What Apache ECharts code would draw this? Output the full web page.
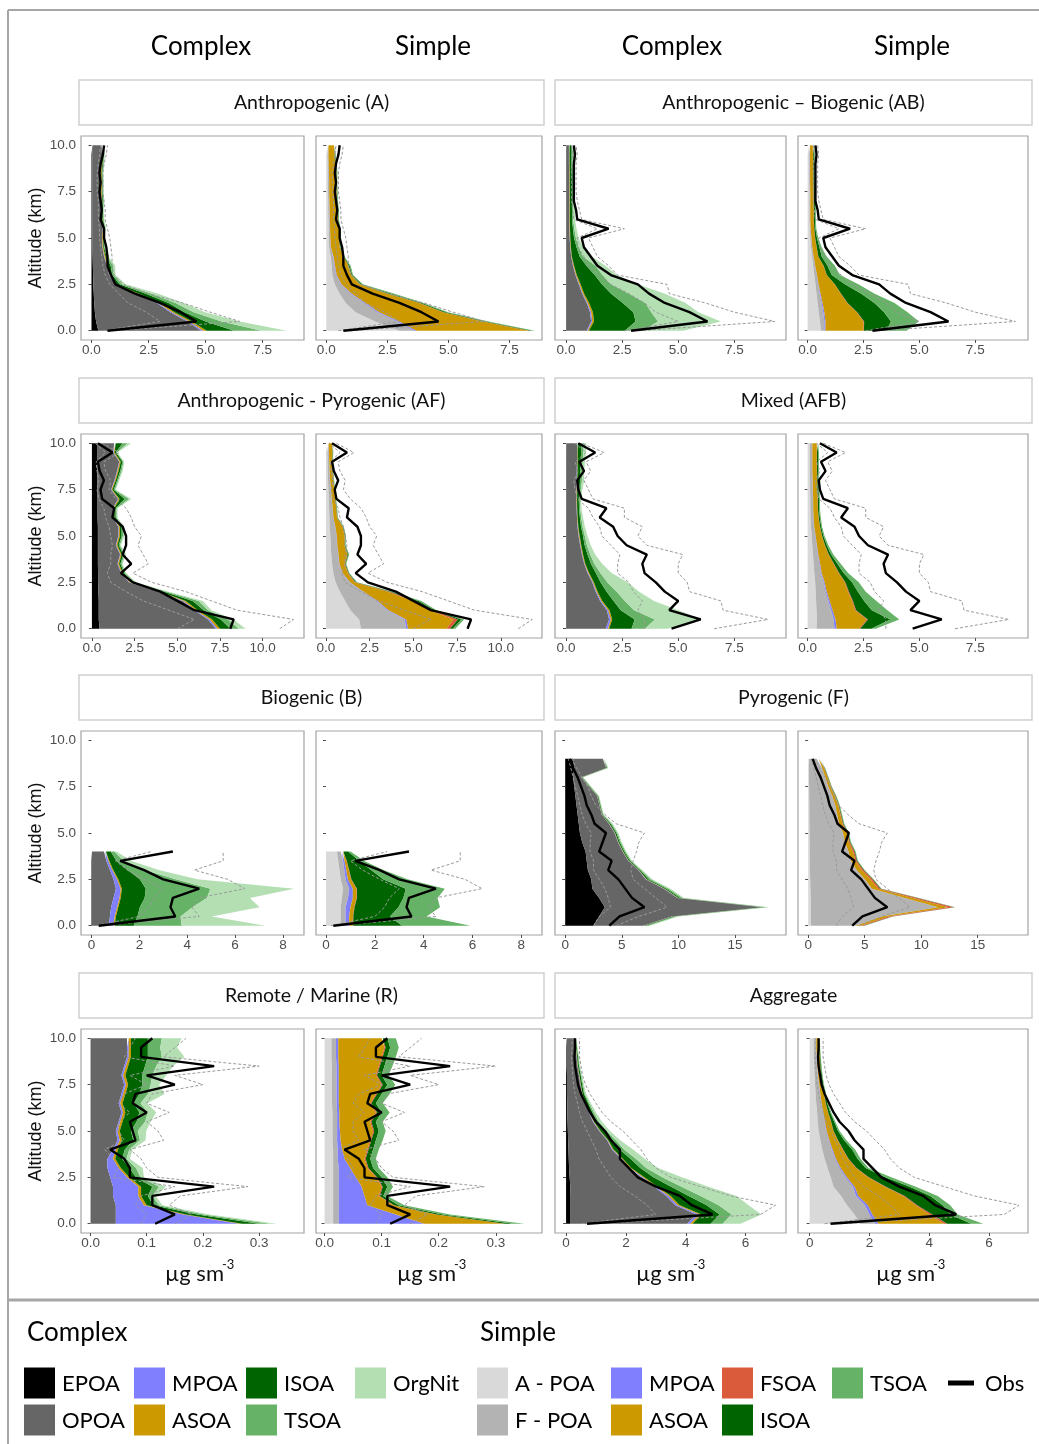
<!DOCTYPE html>
<html><head><meta charset="utf-8">
<script src="https://cdn.jsdelivr.net/npm/echarts@6/dist/echarts.min.js"></script>
<style>html,body{margin:0;padding:0;background:#fff}#c{width:1039px;height:1444px}</style>
</head><body><div id="c"></div>
<script>
// ---------- altitude levels (km) ----------
const ALT_KM = [0,0.5,1,1.5,2,2.5,3,3.5,4,4.5,5,5.5,6,6.5,7,7.5,8,8.5,9,9.5,10];
const Y_TICKS = [0,2.5,5,7.5,10];
const TICKS_25 = [0,2.5,5,7.5];
const TICKS_25_10 = [0,2.5,5,7.5,10];
const TICKS_2 = [0,2,4,6,8];
const TICKS_5 = [0,5,10,15];
const TICKS_01 = [0,0.1,0.2,0.3];
const TICKS_AGG = [0,2,4,6];

// ---------- Anthropogenic (A) ----------
const A_C_EPOA = [0.3,0.2,0.15,0.12,0.1,0.08,0.07,0.06,0.05,0.04,0.04,0.04,0.04,0.04,0.04,0.04,0.04,0.04,0.04,0.04,0.04];
const A_C_OPOA = [4.5,4.0,3.3,2.75,1.85,0.95,0.7,0.62,0.5,0.44,0.42,0.45,0.4,0.38,0.4,0.37,0.38,0.36,0.4,0.42,0.4];
const A_C_MPOA = [0.1,0.08,0.08,0.06,0.05,0.03,0.02,0.02,0.02,0.01,0.01,0.01,0.01,0.01,0.01,0.01,0.01,0.01,0.01,0.01,0.01];
const A_C_ASOA = [0.15,0.12,0.1,0.1,0.08,0.05,0.04,0.04,0.04,0.03,0.03,0.03,0.03,0.03,0.03,0.03,0.03,0.03,0.03,0.03,0.03];
const A_C_ISOA = [1.2,0.6,0.45,0.35,0.3,0.12,0.08,0.1,0.05,0.03,0.03,0.04,0.03,0.03,0.03,0.03,0.03,0.03,0.03,0.03,0.03];
const A_C_TSOA = [1.2,0.7,0.4,0.3,0.25,0.12,0.07,0.1,0.05,0.03,0.03,0.04,0.03,0.03,0.03,0.03,0.03,0.03,0.03,0.03,0.03];
const A_C_ORGN = [1.1,0.8,0.5,0.35,0.3,0.15,0.07,0.1,0.04,0.02,0.02,0.03,0.02,0.02,0.02,0.02,0.02,0.02,0.02,0.02,0.02];
const A_S_APOA = [3.0,2.0,1.2,0.8,0.55,0.35,0.25,0.22,0.18,0.12,0.1,0.1,0.09,0.08,0.08,0.07,0.07,0.06,0.06,0.05,0.05];
const A_S_FPOA = [0.6,0.9,0.9,0.75,0.45,0.25,0.15,0.12,0.1,0.06,0.06,0.05,0.05,0.05,0.04,0.04,0.04,0.04,0.03,0.03,0.03];
const A_S_MPOA = [0.1,0.1,0.08,0.06,0.05,0.03,0.03,0.02,0.02,0.01,0.01,0.01,0.01,0.01,0.01,0.01,0.01,0.01,0.01,0.01,0.01];
const A_S_ASOA = [4.6,3.4,2.6,2.2,1.5,0.75,0.6,0.55,0.4,0.36,0.35,0.38,0.32,0.33,0.3,0.3,0.28,0.3,0.28,0.25,0.22];
const A_S_FSOA = [0.05,0.05,0.04,0.03,0.02,0.02,0.01,0.01,0.01,0.01,0.01,0.01,0.01,0.01,0.01,0.01,0.01,0.01,0.01,0.01,0.01];
const A_S_ISOA = [0.1,0.1,0.1,0.08,0.1,0.05,0.03,0.04,0.02,0.02,0.02,0.02,0.02,0.02,0.02,0.02,0.02,0.02,0.02,0.02,0.02];
const A_S_TSOA = [0.1,0.1,0.08,0.08,0.13,0.05,0.03,0.04,0.02,0.02,0.02,0.02,0.02,0.02,0.02,0.02,0.02,0.02,0.02,0.02,0.02];
const OBS_A_MED = [0.7,4.6,3.9,3.0,1.9,1.05,0.85,0.7,0.7,0.65,0.55,0.55,0.4,0.45,0.4,0.35,0.4,0.35,0.4,0.5,0.55];
const OBS_A_P75 = [1.0,6.5,5.2,4.0,2.5,1.4,1.0,0.9,0.9,0.85,0.8,0.7,0.6,0.6,0.55,0.5,0.5,0.5,0.55,0.65,0.7];
const OBS_A_P25 = [0.5,3.0,2.4,1.6,1.2,0.8,0.6,0.5,0.45,0.4,0.35,0.35,0.3,0.3,0.3,0.25,0.25,0.25,0.3,0.35,0.4];

// ---------- Anthropogenic - Biogenic (AB) ----------
const AB_C_EPOA = [0.02,0.02,0.02,0.02,0.02,0.02,0.02,0.01,0.01,0.01,0.01,0.01,0.01,0.01,0.01,0.01,0.01,0.01,0.01,0.01,0.01];
const AB_C_OPOA = [0.9,1.1,1.05,0.9,0.7,0.55,0.4,0.3,0.22,0.18,0.15,0.14,0.13,0.13,0.13,0.13,0.13,0.13,0.12,0.12,0.12];
const AB_C_MPOA = [0.05,0.05,0.05,0.04,0.03,0.03,0.02,0.02,0.01,0.01,0.01,0.01,0.01,0.01,0.01,0.01,0.01,0.01,0.01,0.01,0.01];
const AB_C_ASOA = [0.05,0.08,0.08,0.07,0.06,0.05,0.04,0.03,0.02,0.02,0.02,0.02,0.02,0.02,0.02,0.02,0.02,0.02,0.02,0.02,0.02];
const AB_C_ISOA = [1.6,1.85,1.8,1.5,1.2,0.95,0.8,0.55,0.35,0.25,0.17,0.13,0.1,0.1,0.1,0.1,0.1,0.09,0.09,0.09,0.09];
const AB_C_TSOA = [0.8,1.0,0.8,1.0,0.8,0.4,0.35,0.4,0.15,0.1,0.08,0.06,0.05,0.05,0.05,0.05,0.05,0.05,0.05,0.05,0.05];
const AB_C_ORGN = [1.8,2.8,2.1,1.8,1.6,1.2,0.65,0.45,0.38,0.2,0.12,0.1,0.08,0.08,0.08,0.08,0.08,0.07,0.07,0.07,0.07];
const AB_S_APOA = [0.6,0.55,0.5,0.45,0.4,0.35,0.3,0.25,0.2,0.15,0.12,0.1,0.08,0.08,0.08,0.08,0.07,0.07,0.07,0.07,0.07];
const AB_S_FPOA = [0.15,0.2,0.2,0.18,0.15,0.12,0.1,0.08,0.06,0.05,0.04,0.03,0.03,0.03,0.03,0.03,0.03,0.03,0.03,0.03,0.03];
const AB_S_MPOA = [0.05,0.05,0.05,0.04,0.03,0.02,0.02,0.01,0.01,0.01,0.01,0.01,0.01,0.01,0.01,0.01,0.01,0.01,0.01,0.01,0.01];
const AB_S_ASOA = [1.7,1.7,1.45,1.1,0.9,0.72,0.43,0.37,0.2,0.19,0.16,0.15,0.15,0.15,0.15,0.15,0.14,0.14,0.13,0.13,0.12];
const AB_S_FSOA = [0.02,0.03,0.02,0.02,0.02,0.01,0.01,0.01,0.01,0.01,0.01,0.01,0.01,0.01,0.01,0.01,0.01,0.01,0.01,0.01,0.01];
const AB_S_ISOA = [1.0,1.2,1.2,1.2,0.9,0.45,0.22,0.17,0.15,0.12,0.08,0.05,0.05,0.05,0.05,0.05,0.05,0.05,0.05,0.05,0.05];
const AB_S_TSOA = [0.9,1.25,1.05,0.9,0.6,0.6,0.37,0.33,0.22,0.1,0.06,0.04,0.04,0.04,0.04,0.04,0.04,0.04,0.04,0.04,0.04];
const OBS_AB_MED = [2.9,6.3,5.5,4.4,3.7,3.2,2.0,1.4,1.1,0.8,0.7,1.9,0.5,0.45,0.35,0.35,0.35,0.35,0.35,0.4,0.35];
const OBS_AB_P75 = [3.2,9.3,7.5,6.2,4.6,4.5,2.3,1.9,1.4,1.2,1.0,2.6,0.7,0.6,0.5,0.45,0.45,0.45,0.45,0.5,0.45];
const OBS_AB_P25 = [2.6,5.0,4.0,3.5,2.8,2.0,1.5,1.0,0.8,0.55,0.5,1.4,0.35,0.3,0.25,0.25,0.25,0.25,0.25,0.3,0.25];

// ---------- Anthropogenic - Pyrogenic (AF) ----------
const AF_C_EPOA = [0.45,0.4,0.4,0.4,0.38,0.36,0.36,0.35,0.35,0.35,0.35,0.35,0.33,0.33,0.33,0.32,0.32,0.32,0.3,0.3,0.3];
const AF_C_OPOA = [6.8,6.4,5.6,4.9,3.5,1.8,1.35,1.15,1.3,1.05,1.2,1.2,0.9,0.9,1.2,0.8,1.0,1.15,1.3,0.95,1.0];
const AF_C_MPOA = [0.1,0.1,0.08,0.08,0.06,0.04,0.03,0.03,0.03,0.03,0.03,0.03,0.03,0.03,0.03,0.03,0.03,0.03,0.03,0.03,0.03];
const AF_C_ASOA = [0.15,0.15,0.12,0.12,0.1,0.07,0.06,0.06,0.06,0.06,0.06,0.06,0.05,0.05,0.06,0.05,0.05,0.06,0.06,0.05,0.06];
const AF_C_ISOA = [0.6,0.5,0.35,0.4,0.2,0.12,0.08,0.08,0.1,0.08,0.1,0.1,0.08,0.08,0.3,0.08,0.08,0.1,0.1,0.08,0.4];
const AF_C_TSOA = [0.5,0.4,0.25,0.35,0.15,0.12,0.07,0.07,0.08,0.07,0.08,0.08,0.06,0.06,0.25,0.07,0.07,0.08,0.06,0.05,0.3];
const AF_C_ORGN = [0.4,0.35,0.2,0.25,0.11,0.09,0.05,0.06,0.08,0.06,0.08,0.08,0.05,0.05,0.13,0.05,0.05,0.06,0.05,0.04,0.21];
const AF_S_APOA = [2.0,1.9,1.4,1.1,0.8,0.55,0.42,0.35,0.3,0.28,0.25,0.22,0.2,0.18,0.16,0.14,0.12,0.1,0.09,0.08,0.07];
const AF_S_FPOA = [2.6,2.6,2.1,1.8,1.3,0.8,0.5,0.4,0.4,0.35,0.35,0.3,0.22,0.2,0.16,0.14,0.11,0.1,0.09,0.08,0.07];
const AF_S_MPOA = [0.1,0.1,0.08,0.06,0.05,0.03,0.03,0.02,0.02,0.02,0.02,0.02,0.01,0.01,0.01,0.01,0.01,0.01,0.01,0.01,0.01];
const AF_S_ASOA = [2.2,2.7,2.4,2.0,1.4,0.25,0.3,0.3,0.5,0.4,0.45,0.4,0.2,0.2,0.2,0.18,0.18,0.16,0.15,0.2,0.2];
const AF_S_FSOA = [0.2,0.25,0.15,0.2,0.1,0.05,0.03,0.03,0.03,0.02,0.02,0.02,0.01,0.01,0.01,0.01,0.01,0.01,0.01,0.01,0.01];
const AF_S_ISOA = [0.15,0.2,0.1,0.15,0.1,0.05,0.03,0.03,0.04,0.03,0.03,0.03,0.02,0.02,0.02,0.02,0.02,0.02,0.02,0.02,0.02];
const AF_S_TSOA = [0.15,0.15,0.1,0.15,0.1,0.05,0.03,0.03,0.04,0.03,0.03,0.03,0.02,0.02,0.02,0.02,0.02,0.02,0.02,0.02,0.02];
const OBS_AF_MED = [8.1,8.3,6.0,5.0,4.0,2.4,1.7,2.3,1.8,2.0,2.0,1.8,1.2,1.3,0.6,0.5,0.7,0.45,0.35,1.2,0.35];
const OBS_AF_P75 = [11.0,11.8,8.5,7.0,5.5,3.5,2.4,3.3,3.0,2.7,2.9,2.5,2.3,2.0,1.4,1.0,1.1,0.8,0.7,1.6,0.6];
const OBS_AF_P25 = [5.0,6.0,4.5,3.0,2.0,1.1,0.9,1.1,1.1,1.2,1.1,1.0,0.8,0.7,0.4,0.3,0.4,0.3,0.25,0.8,0.2];

// ---------- Mixed (AFB) ----------
const AFB_C_EPOA = [0.02,0.02,0.02,0.02,0.02,0.02,0.01,0.01,0.01,0.01,0.01,0.01,0.01,0.01,0.01,0.01,0.01,0.01,0.01,0.01,0.01];
const AFB_C_OPOA = [1.75,1.9,1.8,1.5,1.3,1.15,0.95,0.8,0.7,0.62,0.55,0.5,0.48,0.46,0.45,0.46,0.47,0.47,0.48,0.48,0.48];
const AFB_C_MPOA = [0.1,0.08,0.06,0.05,0.04,0.03,0.03,0.02,0.02,0.02,0.02,0.02,0.01,0.01,0.01,0.01,0.01,0.01,0.01,0.01,0.01];
const AFB_C_ASOA = [0.05,0.06,0.06,0.05,0.05,0.04,0.04,0.03,0.03,0.03,0.03,0.02,0.02,0.02,0.02,0.02,0.02,0.02,0.02,0.02,0.02];
const AFB_C_ISOA = [1.0,1.0,0.5,0.5,0.4,0.3,0.3,0.25,0.2,0.15,0.15,0.12,0.1,0.08,0.08,0.1,0.12,0.12,0.14,0.15,0.15];
const AFB_C_TSOA = [0.6,0.9,0.6,0.5,0.45,0.3,0.2,0.15,0.12,0.1,0.08,0.07,0.06,0.05,0.05,0.06,0.08,0.08,0.09,0.1,0.12];
const AFB_C_ORGN = [1.0,2.1,1.96,1.3,1.0,0.9,0.5,0.35,0.22,0.17,0.12,0.1,0.08,0.06,0.06,0.07,0.1,0.1,0.1,0.12,0.12];
const AFB_S_APOA = [0.4,0.42,0.4,0.38,0.36,0.34,0.3,0.27,0.24,0.21,0.18,0.15,0.13,0.12,0.12,0.11,0.11,0.1,0.1,0.1,0.1];
const AFB_S_FPOA = [0.8,0.75,0.65,0.55,0.45,0.38,0.3,0.26,0.22,0.19,0.16,0.14,0.13,0.12,0.12,0.11,0.11,0.1,0.1,0.1,0.1];
const AFB_S_MPOA = [0.1,0.08,0.07,0.06,0.05,0.04,0.03,0.03,0.02,0.02,0.02,0.01,0.01,0.01,0.01,0.01,0.01,0.01,0.01,0.01,0.01];
const AFB_S_ASOA = [1.0,1.4,1.0,1.0,0.95,0.9,0.75,0.6,0.45,0.35,0.28,0.25,0.22,0.2,0.2,0.2,0.2,0.2,0.2,0.2,0.2];
const AFB_S_FSOA = [0.05,0.05,0.05,0.04,0.04,0.03,0.03,0.02,0.02,0.01,0.01,0.01,0.01,0.01,0.01,0.01,0.01,0.01,0.01,0.01,0.01];
const AFB_S_ISOA = [0.5,1.0,0.7,0.5,0.4,0.3,0.2,0.15,0.1,0.08,0.06,0.05,0.05,0.05,0.05,0.05,0.05,0.05,0.05,0.05,0.05];
const AFB_S_TSOA = [0.2,0.4,0.7,0.55,0.35,0.3,0.2,0.15,0.1,0.07,0.05,0.04,0.04,0.04,0.04,0.04,0.04,0.04,0.04,0.04,0.04];
const OBS_AFB_MED = [4.7,6.0,4.6,5.0,4.4,4.0,3.5,3.4,3.6,2.7,2.3,2.1,1.5,1.8,0.7,0.55,0.5,0.8,0.6,1.3,0.55];
const OBS_AFB_P75 = [6.6,9.0,7.0,6.9,5.5,5.4,5.0,5.0,5.2,3.6,3.2,3.4,2.6,2.6,1.2,1.0,0.8,1.1,0.9,1.7,0.7];
const OBS_AFB_P25 = [3.5,3.5,3.2,3.4,3.0,2.8,2.3,2.3,2.4,2.0,1.6,1.5,1.2,1.0,0.5,0.4,0.35,0.55,0.4,0.9,0.4];

// ---------- Biogenic (B): 0 - 4 km ----------
const B_C_EPOA = [0.02,0.02,0.02,0.02,0.02,0.02,0.02,0.02,0.02];
const B_C_OPOA = [0.7,0.75,0.8,0.9,1.0,0.9,0.75,0.6,0.5];
const B_C_MPOA = [0.2,0.2,0.25,0.25,0.2,0.15,0.1,0.08,0.05];
const B_C_ASOA = [0.05,0.05,0.05,0.05,0.05,0.05,0.04,0.04,0.03];
const B_C_ISOA = [0.8,0.9,0.9,1.0,1.0,0.9,0.6,0.3,0.2];
const B_C_TSOA = [2.0,1.8,2.2,2.6,2.7,1.5,0.7,0.3,0.15];
const B_C_ORGN = [3.5,1.3,2.8,1.8,3.5,0.9,0.6,0.3,0.1];
const B_S_APOA = [0.6,0.6,0.6,0.65,0.7,0.6,0.55,0.5,0.45];
const B_S_FPOA = [0.2,0.2,0.2,0.25,0.25,0.2,0.2,0.2,0.15];
const B_S_MPOA = [0.15,0.15,0.2,0.2,0.15,0.1,0.08,0.06,0.04];
const B_S_ASOA = [0.15,0.15,0.15,0.15,0.15,0.12,0.1,0.08,0.06];
const B_S_FSOA = [0.02,0.02,0.02,0.02,0.02,0.02,0.02,0.01,0.01];
const B_S_ISOA = [2.0,1.5,1.8,1.9,2.0,1.3,0.9,0.5,0.2];
const B_S_TSOA = [2.8,1.5,1.7,1.4,1.6,1.0,0.5,0.2,0.1];
const OBS_B_MED = [0.3,3.5,3.3,3.4,4.5,3.0,2.2,1.2,3.4];
const OBS_B_P75 = [0.5,4.5,4.2,4.5,6.4,5.7,4.3,5.5,5.5];
const OBS_B_P25 = [0.2,2.0,2.4,2.6,3.0,2.2,1.5,1.0,2.5];

// ---------- Pyrogenic (F): 0 - 9 km ----------
const F_C_EPOA = [2.5,3.0,3.5,3.0,2.4,2.3,2.0,1.9,1.8,1.5,1.3,1.2,1.1,1.0,0.9,0.8,0.7,0.8,0.7];
const F_C_OPOA = [4.4,6.4,13.9,6.9,6.3,4.8,4.46,3.66,3.26,3.16,3.06,2.66,2.12,2.02,1.92,1.32,0.72,2.82,2.62];
const F_C_MPOA = [0.05,0.05,0.05,0.05,0.05,0.05,0.03,0.03,0.03,0.03,0.03,0.03,0.02,0.02,0.02,0.02,0.02,0.02,0.02];
const F_C_ASOA = [0.05,0.05,0.05,0.05,0.05,0.05,0.03,0.03,0.03,0.03,0.03,0.03,0.02,0.02,0.02,0.02,0.02,0.02,0.02];
const F_C_ISOA = [0.15,0.15,0.15,0.15,0.15,0.15,0.1,0.1,0.1,0.1,0.1,0.1,0.05,0.05,0.05,0.05,0.05,0.05,0.05];
const F_C_TSOA = [0.2,0.2,0.2,0.2,0.2,0.2,0.1,0.1,0.1,0.1,0.1,0.1,0.05,0.05,0.05,0.05,0.05,0.05,0.05];
const F_C_ORGN = [0.15,0.15,0.15,0.15,0.15,0.15,0.08,0.08,0.08,0.08,0.08,0.08,0.04,0.04,0.04,0.04,0.04,0.04,0.04];
const F_S_APOA = [0.25,0.25,0.25,0.22,0.2,0.18,0.16,0.15,0.14,0.13,0.12,0.11,0.1,0.1,0.09,0.08,0.07,0.06,0.05];
const F_S_FPOA = [3.9,6.2,11.2,8.3,5.4,4.8,4.1,3.6,3.4,3.1,2.95,2.6,2.45,2.28,2.02,1.68,1.42,1.16,0.7];
const F_S_MPOA = [0.05,0.05,0.05,0.04,0.04,0.03,0.03,0.03,0.03,0.02,0.02,0.02,0.02,0.02,0.02,0.02,0.02,0.02,0.01];
const F_S_ASOA = [0.5,0.6,0.9,0.7,0.55,0.5,0.45,0.4,0.4,0.35,0.33,0.3,0.28,0.26,0.24,0.22,0.2,0.18,0.16];
const F_S_FSOA = [0.2,0.3,0.5,0.4,0.2,0.19,0.16,0.12,0.13,0.1,0.08,0.07,0.06,0.05,0.05,0.04,0.03,0.03,0.03];
const F_S_ISOA = [0.05,0.05,0.05,0.07,0.06,0.05,0.05,0.05,0.05,0.05,0.05,0.05,0.05,0.05,0.04,0.03,0.03,0.03,0.03];
const F_S_TSOA = [0.05,0.05,0.05,0.07,0.05,0.05,0.05,0.05,0.05,0.05,0.05,0.05,0.04,0.04,0.04,0.03,0.03,0.02,0.02];
const OBS_F_MED = [3.9,4.8,7.0,5.9,5.3,4.7,3.8,4.1,3.0,3.3,3.6,2.6,2.3,1.9,1.7,1.4,1.1,0.7,0.4];
const OBS_F_P75 = [4.5,6.5,9.0,8.0,7.0,6.0,5.8,6.0,6.3,6.5,7.0,4.5,3.5,2.7,2.3,2.0,1.5,1.0,0.6];
const OBS_F_P25 = [2.5,3.0,4.0,3.8,3.5,3.0,2.5,2.5,2.2,2.2,2.3,1.8,1.5,1.3,1.1,0.9,0.7,0.5,0.3];

// ---------- Remote / Marine (R) ----------
const R_C_EPOA = [0,0,0,0,0,0,0,0,0,0,0,0,0,0,0,0,0,0,0,0,0];
const R_C_OPOA = [0.045,0.045,0.045,0.04,0.04,0.035,0.03,0.03,0.04,0.048,0.045,0.05,0.055,0.05,0.055,0.06,0.055,0.06,0.065,0.065,0.065];
const R_C_MPOA = [0.22,0.12,0.05,0.045,0.045,0.03,0.02,0.01,0.005,0.004,0.003,0.003,0.003,0.003,0.003,0.003,0.003,0.003,0.003,0.003,0.003];
const R_C_ASOA = [0.005,0.005,0.005,0.005,0.005,0.004,0.004,0.004,0.004,0.004,0.004,0.004,0.004,0.004,0.004,0.004,0.004,0.004,0.004,0.004,0.004];
const R_C_ISOA = [0.03,0.02,0.012,0.012,0.02,0.012,0.015,0.012,0.012,0.02,0.02,0.025,0.025,0.02,0.025,0.025,0.03,0.03,0.03,0.03,0.03];
const R_C_TSOA = [0.02,0.012,0.01,0.008,0.012,0.008,0.012,0.008,0.008,0.012,0.012,0.015,0.015,0.012,0.015,0.015,0.018,0.02,0.025,0.022,0.025];
const R_C_ORGN = [0.012,0.01,0.006,0.006,0.012,0.006,0.012,0.006,0.006,0.01,0.015,0.01,0.015,0.012,0.03,0.015,0.025,0.03,0.04,0.03,0.035];
const R_S_APOA = [0.015,0.015,0.015,0.015,0.015,0.015,0.015,0.015,0.015,0.014,0.014,0.014,0.014,0.013,0.013,0.013,0.013,0.013,0.012,0.012,0.012];
const R_S_FPOA = [0.01,0.01,0.01,0.01,0.01,0.01,0.01,0.008,0.008,0.008,0.008,0.008,0.008,0.008,0.008,0.008,0.008,0.008,0.008,0.008,0.008];
const R_S_MPOA = [0.15,0.1,0.05,0.045,0.04,0.03,0.02,0.012,0.008,0.006,0.005,0.004,0.004,0.004,0.004,0.004,0.004,0.004,0.004,0.004,0.004];
const R_S_ASOA = [0.14,0.07,0.045,0.025,0.035,0.035,0.03,0.035,0.044,0.052,0.058,0.054,0.064,0.055,0.065,0.075,0.065,0.07,0.076,0.081,0.076];
const R_S_FSOA = [0.002,0.002,0.002,0.002,0.002,0.002,0.002,0.002,0.002,0.002,0.002,0.002,0.002,0.002,0.002,0.002,0.002,0.002,0.002,0.002,0.002];
const R_S_ISOA = [0.015,0.01,0.008,0.006,0.008,0.008,0.008,0.008,0.008,0.008,0.008,0.008,0.008,0.008,0.008,0.008,0.008,0.008,0.008,0.008,0.008];
const R_S_TSOA = [0.018,0.013,0.01,0.007,0.01,0.01,0.01,0.01,0.01,0.012,0.012,0.012,0.014,0.012,0.014,0.014,0.012,0.014,0.015,0.015,0.015];
const OBS_R_MED = [0.115,0.15,0.11,0.11,0.22,0.07,0.07,0.06,0.035,0.08,0.075,0.07,0.1,0.075,0.08,0.15,0.1,0.22,0.09,0.09,0.11];
const OBS_R_P75 = [0.15,0.18,0.14,0.16,0.28,0.12,0.1,0.09,0.07,0.13,0.12,0.1,0.14,0.1,0.11,0.2,0.15,0.3,0.13,0.15,0.17];
const OBS_R_P25 = [0.09,0.1,0.08,0.09,0.15,0.04,0.05,0.04,0.025,0.06,0.05,0.05,0.07,0.05,0.06,0.1,0.07,0.15,0.06,0.07,0.08];

// ---------- Aggregate ----------
const AGG_C_EPOA = [0.15,0.15,0.15,0.15,0.14,0.12,0.1,0.09,0.08,0.07,0.06,0.05,0.04,0.04,0.03,0.03,0.03,0.02,0.02,0.02,0.02];
const AGG_C_OPOA = [3.9,4.2,3.5,3.2,2.8,2.4,2.0,1.75,1.45,1.3,1.05,0.85,0.72,0.6,0.5,0.45,0.4,0.36,0.33,0.3,0.28];
const AGG_C_MPOA = [0.1,0.1,0.08,0.08,0.06,0.05,0.04,0.03,0.03,0.02,0.02,0.02,0.02,0.01,0.01,0.01,0.01,0.01,0.01,0.01,0.01];
const AGG_C_ASOA = [0.08,0.08,0.07,0.07,0.06,0.05,0.04,0.03,0.03,0.02,0.02,0.02,0.02,0.02,0.01,0.01,0.01,0.01,0.01,0.01,0.01];
const AGG_C_ISOA = [0.6,0.6,0.9,0.6,0.45,0.3,0.3,0.25,0.2,0.15,0.12,0.1,0.08,0.07,0.05,0.04,0.04,0.03,0.03,0.02,0.02];
const AGG_C_TSOA = [0.4,0.4,0.4,0.4,0.35,0.3,0.2,0.18,0.15,0.1,0.08,0.06,0.05,0.04,0.03,0.03,0.02,0.02,0.02,0.01,0.01];
const AGG_C_ORGN = [0.6,1.0,1.0,1.2,0.9,0.65,0.4,0.3,0.3,0.15,0.12,0.1,0.07,0.05,0.04,0.03,0.03,0.02,0.02,0.01,0.01];
const AGG_S_APOA = [1.7,1.5,1.25,1.05,0.8,0.7,0.6,0.5,0.42,0.36,0.3,0.27,0.25,0.22,0.2,0.18,0.16,0.15,0.14,0.13,0.13];
const AGG_S_FPOA = [0.5,0.5,0.6,0.5,0.65,0.5,0.4,0.35,0.32,0.28,0.25,0.22,0.2,0.17,0.15,0.13,0.11,0.1,0.09,0.08,0.08];
const AGG_S_MPOA = [0.1,0.1,0.1,0.08,0.06,0.05,0.04,0.03,0.03,0.02,0.02,0.02,0.01,0.01,0.01,0.01,0.01,0.01,0.01,0.01,0.01];
const AGG_S_ASOA = [2.2,1.9,1.6,1.5,1.0,0.7,0.5,0.4,0.33,0.27,0.22,0.2,0.15,0.13,0.12,0.1,0.1,0.1,0.1,0.1,0.1];
const AGG_S_FSOA = [0.1,0.1,0.05,0.05,0.04,0.03,0.03,0.02,0.02,0.02,0.01,0.01,0.01,0.01,0.01,0.01,0,0,0,0,0];
const AGG_S_ISOA = [0.8,0.6,0.85,0.85,0.8,0.55,0.3,0.3,0.3,0.2,0.15,0.1,0.07,0.05,0.04,0.03,0.03,0.02,0.02,0.02,0.02];
const AGG_S_TSOA = [0.4,0.25,0.25,0.25,0.2,0.2,0.1,0.1,0.1,0.08,0.05,0.04,0.03,0.03,0.02,0.02,0.02,0.02,0.01,0.01,0.01];
const OBS_AGG_MED = [0.7,4.9,4.2,3.8,3.0,2.4,2.1,1.8,1.8,1.5,1.3,1.0,0.8,0.65,0.5,0.4,0.35,0.3,0.28,0.3,0.3];
const OBS_AGG_P75 = [1.0,6.5,7.0,5.5,4.5,3.5,3.0,2.7,2.5,2.2,1.9,1.5,1.2,1.0,0.8,0.65,0.55,0.5,0.45,0.45,0.45];
const OBS_AGG_P25 = [0.5,3.0,2.7,2.3,1.8,1.5,1.3,1.1,1.0,0.85,0.7,0.55,0.45,0.38,0.3,0.25,0.22,0.2,0.18,0.2,0.2];

// ---------- labels ----------
const CX_NAMES = ['EPOA','OPOA','MPOA','ASOA','ISOA','TSOA','OrgNit'];
const SP_NAMES = ['A - POA','F - POA','MPOA','ASOA','FSOA','ISOA','TSOA'];
const STRIPS = [['Anthropogenic (A)','Anthropogenic \u2013 Biogenic (AB)'],['Anthropogenic - Pyrogenic (AF)','Mixed (AFB)'],['Biogenic (B)','Pyrogenic (F)'],['Remote / Marine (R)','Aggregate']];
const HEADERS = ['Complex','Simple','Complex','Simple'];

// ---------- styling / layout ----------
const CX_COL = ['#000000','#666666','#8080ff','#cc9900','#006400','#66b266','#b3dfb3'];
const SP_COL = ['#d9d9d9','#b3b3b3','#8080ff','#cc9900','#d95b3b','#006400','#66b266'];
const ROW_TOP = [136, 434, 731, 1029];
const PANEL_H = 204;
const COL_LEFT = [81, 316, 555, 798];
const COL_W = [223, 226, 231, 230];
const HEADER_X = [201, 433, 672, 912];
const CATS = ['-0.5'].concat(ALT_KM.map(String)).concat(['10.5']);

const PANELS = [
  {c:[A_C_EPOA,A_C_OPOA,A_C_MPOA,A_C_ASOA,A_C_ISOA,A_C_TSOA,A_C_ORGN], cx:true, o:[OBS_A_P25,OBS_A_P75,OBS_A_MED], mm:[-0.46,9.31], t:TICKS_25, d:1},
  {c:[A_S_APOA,A_S_FPOA,A_S_MPOA,A_S_ASOA,A_S_FSOA,A_S_ISOA,A_S_TSOA], cx:false, o:[OBS_A_P25,OBS_A_P75,OBS_A_MED], mm:[-0.42,8.84], t:TICKS_25, d:1},
  {c:[AB_C_EPOA,AB_C_OPOA,AB_C_MPOA,AB_C_ASOA,AB_C_ISOA,AB_C_TSOA,AB_C_ORGN], cx:true, o:[OBS_AB_P25,OBS_AB_P75,OBS_AB_MED], mm:[-0.49,9.8], t:TICKS_25, d:1},
  {c:[AB_S_APOA,AB_S_FPOA,AB_S_MPOA,AB_S_ASOA,AB_S_FSOA,AB_S_ISOA,AB_S_TSOA], cx:false, o:[OBS_AB_P25,OBS_AB_P75,OBS_AB_MED], mm:[-0.43,9.86], t:TICKS_25, d:1},
  {c:[AF_C_EPOA,AF_C_OPOA,AF_C_MPOA,AF_C_ASOA,AF_C_ISOA,AF_C_TSOA,AF_C_ORGN], cx:true, o:[OBS_AF_P25,OBS_AF_P75,OBS_AF_MED], mm:[-0.64,12.42], t:TICKS_25_10, d:1},
  {c:[AF_S_APOA,AF_S_FPOA,AF_S_MPOA,AF_S_ASOA,AF_S_FSOA,AF_S_ISOA,AF_S_TSOA], cx:false, o:[OBS_AF_P25,OBS_AF_P75,OBS_AF_MED], mm:[-0.57,12.36], t:TICKS_25_10, d:1},
  {c:[AFB_C_EPOA,AFB_C_OPOA,AFB_C_MPOA,AFB_C_ASOA,AFB_C_ISOA,AFB_C_TSOA,AFB_C_ORGN], cx:true, o:[OBS_AFB_P25,OBS_AFB_P75,OBS_AFB_MED], mm:[-0.49,9.8], t:TICKS_25, d:1},
  {c:[AFB_S_APOA,AFB_S_FPOA,AFB_S_MPOA,AFB_S_ASOA,AFB_S_FSOA,AFB_S_ISOA,AFB_S_TSOA], cx:false, o:[OBS_AFB_P25,OBS_AFB_P75,OBS_AFB_MED], mm:[-0.43,9.86], t:TICKS_25, d:1},
  {c:[B_C_EPOA,B_C_OPOA,B_C_MPOA,B_C_ASOA,B_C_ISOA,B_C_TSOA,B_C_ORGN], cx:true, o:[OBS_B_P25,OBS_B_P75,OBS_B_MED], mm:[-0.44,8.88], t:TICKS_2, d:0},
  {c:[B_S_APOA,B_S_FPOA,B_S_MPOA,B_S_ASOA,B_S_FSOA,B_S_ISOA,B_S_TSOA], cx:false, o:[OBS_B_P25,OBS_B_P75,OBS_B_MED], mm:[-0.41,8.85], t:TICKS_2, d:0},
  {c:[F_C_EPOA,F_C_OPOA,F_C_MPOA,F_C_ASOA,F_C_ISOA,F_C_TSOA,F_C_ORGN], cx:true, o:[OBS_F_P25,OBS_F_P75,OBS_F_MED], mm:[-0.9,19.5], t:TICKS_5, d:0},
  {c:[F_S_APOA,F_S_FPOA,F_S_MPOA,F_S_ASOA,F_S_FSOA,F_S_ISOA,F_S_TSOA], cx:false, o:[OBS_F_P25,OBS_F_P75,OBS_F_MED], mm:[-0.9,19.45], t:TICKS_5, d:0},
  {c:[R_C_EPOA,R_C_OPOA,R_C_MPOA,R_C_ASOA,R_C_ISOA,R_C_TSOA,R_C_ORGN], cx:true, o:[OBS_R_P25,OBS_R_P75,OBS_R_MED], mm:[-0.017,0.38], t:TICKS_01, d:1},
  {c:[R_S_APOA,R_S_FPOA,R_S_MPOA,R_S_ASOA,R_S_FSOA,R_S_ISOA,R_S_TSOA], cx:false, o:[OBS_R_P25,OBS_R_P75,OBS_R_MED], mm:[-0.015,0.381], t:TICKS_01, d:1},
  {c:[AGG_C_EPOA,AGG_C_OPOA,AGG_C_MPOA,AGG_C_ASOA,AGG_C_ISOA,AGG_C_TSOA,AGG_C_ORGN], cx:true, o:[OBS_AGG_P25,OBS_AGG_P75,OBS_AGG_MED], mm:[-0.37,7.35], t:TICKS_AGG, d:0},
  {c:[AGG_S_APOA,AGG_S_FPOA,AGG_S_MPOA,AGG_S_ASOA,AGG_S_FSOA,AGG_S_ISOA,AGG_S_TSOA], cx:false, o:[OBS_AGG_P25,OBS_AGG_P75,OBS_AGG_MED], mm:[-0.39,7.3], t:TICKS_AGG, d:0}
];

function pad(arr){
  const out = [null].concat(arr);
  while (out.length < CATS.length) out.push(null);
  return out;
}
const yTickFn = (idx, val) => Y_TICKS.indexOf(Number(val)) >= 0;
const AXIS_GREY = '#4d4d4d';
const SANS = "'Liberation Sans', Arial, sans-serif";
const LAT = "Lato, 'Open Sans', sans-serif";

const grids = [], xAxes = [], yAxes = [], series = [];
PANELS.forEach((p, i) => {
  const r = Math.floor(i / 4), c = i % 4;
  grids.push({left: COL_LEFT[c], top: ROW_TOP[r], width: COL_W[c], height: PANEL_H,
    show: true, borderColor: '#a3a3a3', borderWidth: 1.2, backgroundColor: '#ffffff', outerBoundsMode: 'none'});
  xAxes.push({gridIndex: i, type: 'value', min: p.mm[0], max: p.mm[1],
    splitLine: {show: false}, axisLine: {show: false},
    axisTick: {show: true, length: 3, customValues: p.t, lineStyle: {color: AXIS_GREY}},
    axisLabel: {customValues: p.t, color: AXIS_GREY, fontSize: 13.5, fontFamily: SANS, margin: 3,
      formatter: v => p.d ? Number(v).toFixed(p.d) : String(Math.round(v))}});
  yAxes.push({gridIndex: i, type: 'category', data: CATS, boundaryGap: false,
    axisLine: {show: false}, splitLine: {show: false},
    axisTick: {show: true, length: 3, interval: yTickFn, lineStyle: {color: AXIS_GREY}},
    axisLabel: {show: c === 0, interval: yTickFn, color: AXIS_GREY, fontSize: 13.5, fontFamily: SANS, margin: 5,
      formatter: v => Number(v).toFixed(1)},
    name: c === 0 ? 'Altitude (km)' : '', nameLocation: 'middle', nameGap: 36,
    nameTextStyle: {fontSize: 18, color: '#111', fontFamily: SANS}});
  const cols = p.cx ? CX_COL : SP_COL;
  const names = p.cx ? CX_NAMES : SP_NAMES;
  p.c.forEach((arr, k) => {
    series.push({type: 'line', name: names[k], xAxisIndex: i, yAxisIndex: i, stack: 'st' + i,
      data: pad(arr), symbol: 'none', showSymbol: false, silent: true,
      lineStyle: {width: 0}, itemStyle: {color: cols[k]}, areaStyle: {color: cols[k], opacity: 1}, z: 2});
  });
  [0, 1].forEach(k => {
    series.push({type: 'line', xAxisIndex: i, yAxisIndex: i, data: pad(p.o[k]), symbol: 'none', silent: true,
      lineStyle: {color: '#9a9a9a', width: 1, type: [3, 2]}, z: 3});
  });
  series.push({type: 'line', name: 'Obs', xAxisIndex: i, yAxisIndex: i, data: pad(p.o[2]), symbol: 'none', silent: true,
    lineStyle: {color: '#000', width: 2.4}, z: 4});
});

// ---------- decorations ----------
const G = [];
G.push({type: 'line', shape: {x1: 8, y1: 10, x2: 1039, y2: 10}, style: {stroke: '#a6a6a6', lineWidth: 2}});
G.push({type: 'line', shape: {x1: 8, y1: 10, x2: 8, y2: 1444}, style: {stroke: '#a6a6a6', lineWidth: 2}});
G.push({type: 'line', shape: {x1: 8, y1: 1300, x2: 1039, y2: 1300}, style: {stroke: '#a6a6a6', lineWidth: 3}});
HEADERS.forEach((h, c) => {
  G.push({type: 'text', style: {text: h, x: HEADER_X[c], y: 47, align: 'center', verticalAlign: 'middle',
    textAlign: 'center', textVerticalAlign: 'middle', font: '26px ' + LAT, fill: '#000'}});
});
const STRIP_L = [79, 555], STRIP_W = [465, 477];
STRIPS.forEach((pair, r) => {
  pair.forEach((txt, j) => {
    const top = ROW_TOP[r] - 56;
    G.push({type: 'rect', shape: {x: STRIP_L[j], y: top, width: STRIP_W[j], height: 45},
      style: {fill: '#fff', stroke: '#cfcfcf', lineWidth: 1.5}});
    G.push({type: 'text', style: {text: txt, x: STRIP_L[j] + STRIP_W[j] / 2, y: top + 22.5,
      align: 'center', verticalAlign: 'middle', textAlign: 'center', textVerticalAlign: 'middle',
      font: '19.5px ' + LAT, fill: '#111'}});
  });
});
HEADER_X.forEach(cx => {
  G.push({type: 'text', style: {text: '\u00b5g sm', x: cx - 36, y: 1274, align: 'left', verticalAlign: 'middle',
    textAlign: 'left', textVerticalAlign: 'middle', font: '22px ' + LAT, fill: '#111'}});
  G.push({type: 'text', style: {text: '-3', x: cx + 21, y: 1265, align: 'left', verticalAlign: 'middle',
    textAlign: 'left', textVerticalAlign: 'middle', font: '13px ' + LAT, fill: '#111'}});
});
// legend
G.push({type: 'text', style: {text: 'Complex', x: 27, y: 1333, align: 'left', verticalAlign: 'middle',
  textAlign: 'left', textVerticalAlign: 'middle', font: '26px ' + LAT, fill: '#000'}});
G.push({type: 'text', style: {text: 'Simple', x: 480, y: 1333, align: 'left', verticalAlign: 'middle',
  textAlign: 'left', textVerticalAlign: 'middle', font: '26px ' + LAT, fill: '#000'}});
const LEG_ROW_Y = [1383, 1420];
const LEG_CX = [[0, 24, 0], [2, 134, 0], [4, 246, 0], [6, 355, 0], [1, 24, 1], [3, 134, 1], [5, 246, 1]];
const LEG_SP = [[0, 477, 0], [2, 611, 0], [4, 722, 0], [6, 832, 0], [1, 477, 1], [3, 611, 1], [5, 722, 1]];
function legItem(name, col, x, row) {
  const cy = LEG_ROW_Y[row];
  G.push({type: 'rect', shape: {x: x, y: cy - 15.5, width: 31, height: 31}, style: {fill: col}});
  G.push({type: 'text', style: {text: name, x: x + 38, y: cy + 1, align: 'left', verticalAlign: 'middle',
    textAlign: 'left', textVerticalAlign: 'middle', font: '22px ' + LAT, fill: '#000'}});
}
LEG_CX.forEach(e => legItem(CX_NAMES[e[0]], CX_COL[e[0]], e[1], e[2]));
LEG_SP.forEach(e => legItem(SP_NAMES[e[0]], SP_COL[e[0]], e[1], e[2]));
G.push({type: 'line', shape: {x1: 948, y1: 1383, x2: 974, y2: 1383}, style: {stroke: '#000', lineWidth: 5}});
G.push({type: 'text', style: {text: 'Obs', x: 985, y: 1384, align: 'left', verticalAlign: 'middle',
  textAlign: 'left', textVerticalAlign: 'middle', font: '22px ' + LAT, fill: '#000'}});

const chart = echarts.init(document.getElementById('c'), null, {renderer: 'canvas', width: 1039, height: 1444});
chart.setOption({animation: false, backgroundColor: '#ffffff',
  grid: grids, xAxis: xAxes, yAxis: yAxes, series: series, graphic: G});
</script></body></html>
